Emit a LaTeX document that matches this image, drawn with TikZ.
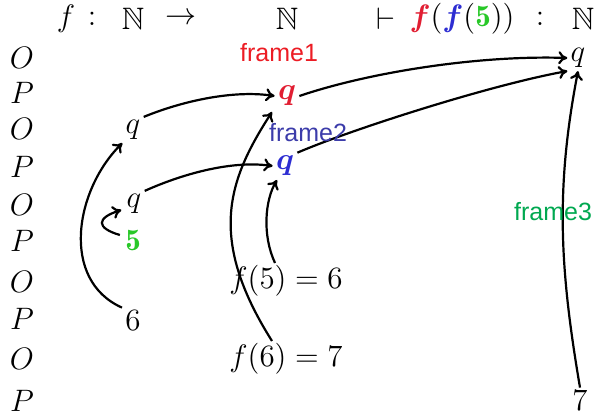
\documentclass[tikz,border=0pt]{standalone}
\usepackage{fix-cm}
\usepackage{amsmath,amssymb}
\usepackage{fontspec}
\newfontfamily\framefont{Liberation Sans}
\usetikzlibrary{arrows.meta,calc}
\definecolor{labred}{RGB}{236,28,36}
\definecolor{qred}{RGB}{225,30,50}
\definecolor{labblue}{RGB}{60,60,170}
\definecolor{qblue}{RGB}{45,45,210}
\definecolor{labgreen}{RGB}{0,168,80}
\definecolor{qgreen}{RGB}{40,200,40}
\tikzset{
  mv/.style={inner sep=1.5pt, font=\fontsize{15.5}{18}\selectfont},
  framelabel/.style={inner sep=0pt, font=\fontsize{12.5}{15}\selectfont\framefont},
  ptr/.style={draw, line width=1.1pt, -{To[length=4.5pt,width=6.5pt]}},
}
\begin{document}
\begin{tikzpicture}[x=0.5pt,y=-0.5pt]
\useasboundingbox (0,0) rectangle (597,415);
% header
\node[mv] (hf) at (66,19) {$f$};
\node[mv] (hc1) at (92,19) {$:$};
\node[mv] (hN1) at (133,19) {$\mathbb{N}$};
\node[mv] (har) at (181,19) {$\rightarrow$};
\node[mv] (hN2) at (287,19) {$\mathbb{N}$};
\node[mv] (hvd) at (386,19) {$\vdash$};
\node[mv] (hterm) at (462,19) {${\color{qred}\boldsymbol{f}}({\color{qblue}\boldsymbol{f}}({\color{qgreen}\mathbf{5}}))$};
\node[mv] (hc2) at (540,19) {$:$};
\node[mv] (hN3) at (583,19) {$\mathbb{N}$};
% O/P column
\node[mv] (r1) at (22,58) {$O$};
\node[mv] (r2) at (22,93) {$P$};
\node[mv] (r3) at (22,129) {$O$};
\node[mv] (r4) at (22,167) {$P$};
\node[mv] (r5) at (22,205) {$O$};
\node[mv] (r6) at (22,241) {$P$};
\node[mv] (r7) at (22,282) {$O$};
\node[mv] (r8) at (22,319) {$P$};
\node[mv] (r9) at (22,359) {$O$};
\node[mv] (r10) at (22,401) {$P$};
% moves
\node[mv] (q1) at (133,130) {$q$};
\node[mv] (rq) at (287,96) {$\color{qred}\boldsymbol{q}$};
\node[mv] (bq) at (285,166) {$\color{qblue}\boldsymbol{q}$};
\node[mv] (q2) at (134,204) {$q$};
\node[mv] (five) at (133,241) {$\color{qgreen}\mathbf{5}$};
\node[mv] (f5) at (286,281) {$f(5) = 6$};
\node[mv] (six) at (133,321) {$6$};
\node[mv] (f6) at (286,359) {$f(6) = 7$};
\node[mv] (Q) at (578,58) {$q$};
\node[mv] (seven) at (580,401) {$7$};
% pointers
\draw[ptr] (q1.north east) .. controls (185,100) and (235,90) .. (rq.west);
\draw[ptr] (rq.east) .. controls (370,72) and (480,55) .. (Q.west);
\draw[ptr] (bq.north east) .. controls (350,130) and (490,85) .. (Q.south west);
\draw[ptr] (q2.north east) .. controls (180,175) and (230,160) .. (bq.west);
\draw[ptr] ($(five.west)+(-2,-6)$) .. controls (96,228) and (96,218) .. ($(q2.west)+(-2,6)$);
\draw[ptr] (six.north west) .. controls (60,280) and (75,190) .. (q1.south west);
\draw[ptr] ($(f6)+(-14,-18)$) .. controls (207,238) and (228,180) .. ($(rq)+(-15,16)$);
\draw[ptr] ($(f5)+(-11,-18)$) .. controls (262,235) and (265,200) .. ($(bq)+(-8,14)$);
\draw[ptr] (seven.north) .. controls (560,270) and (555,190) .. (Q.south);
% frame labels
\node[framelabel, text=labred] (fr1) at (279,53) {frame1};
\node[framelabel, text=labblue] (fr2) at (308,133) {frame2};
\node[framelabel, text=labgreen] (fr3) at (553,212) {frame3};
\end{tikzpicture}
\end{document}
